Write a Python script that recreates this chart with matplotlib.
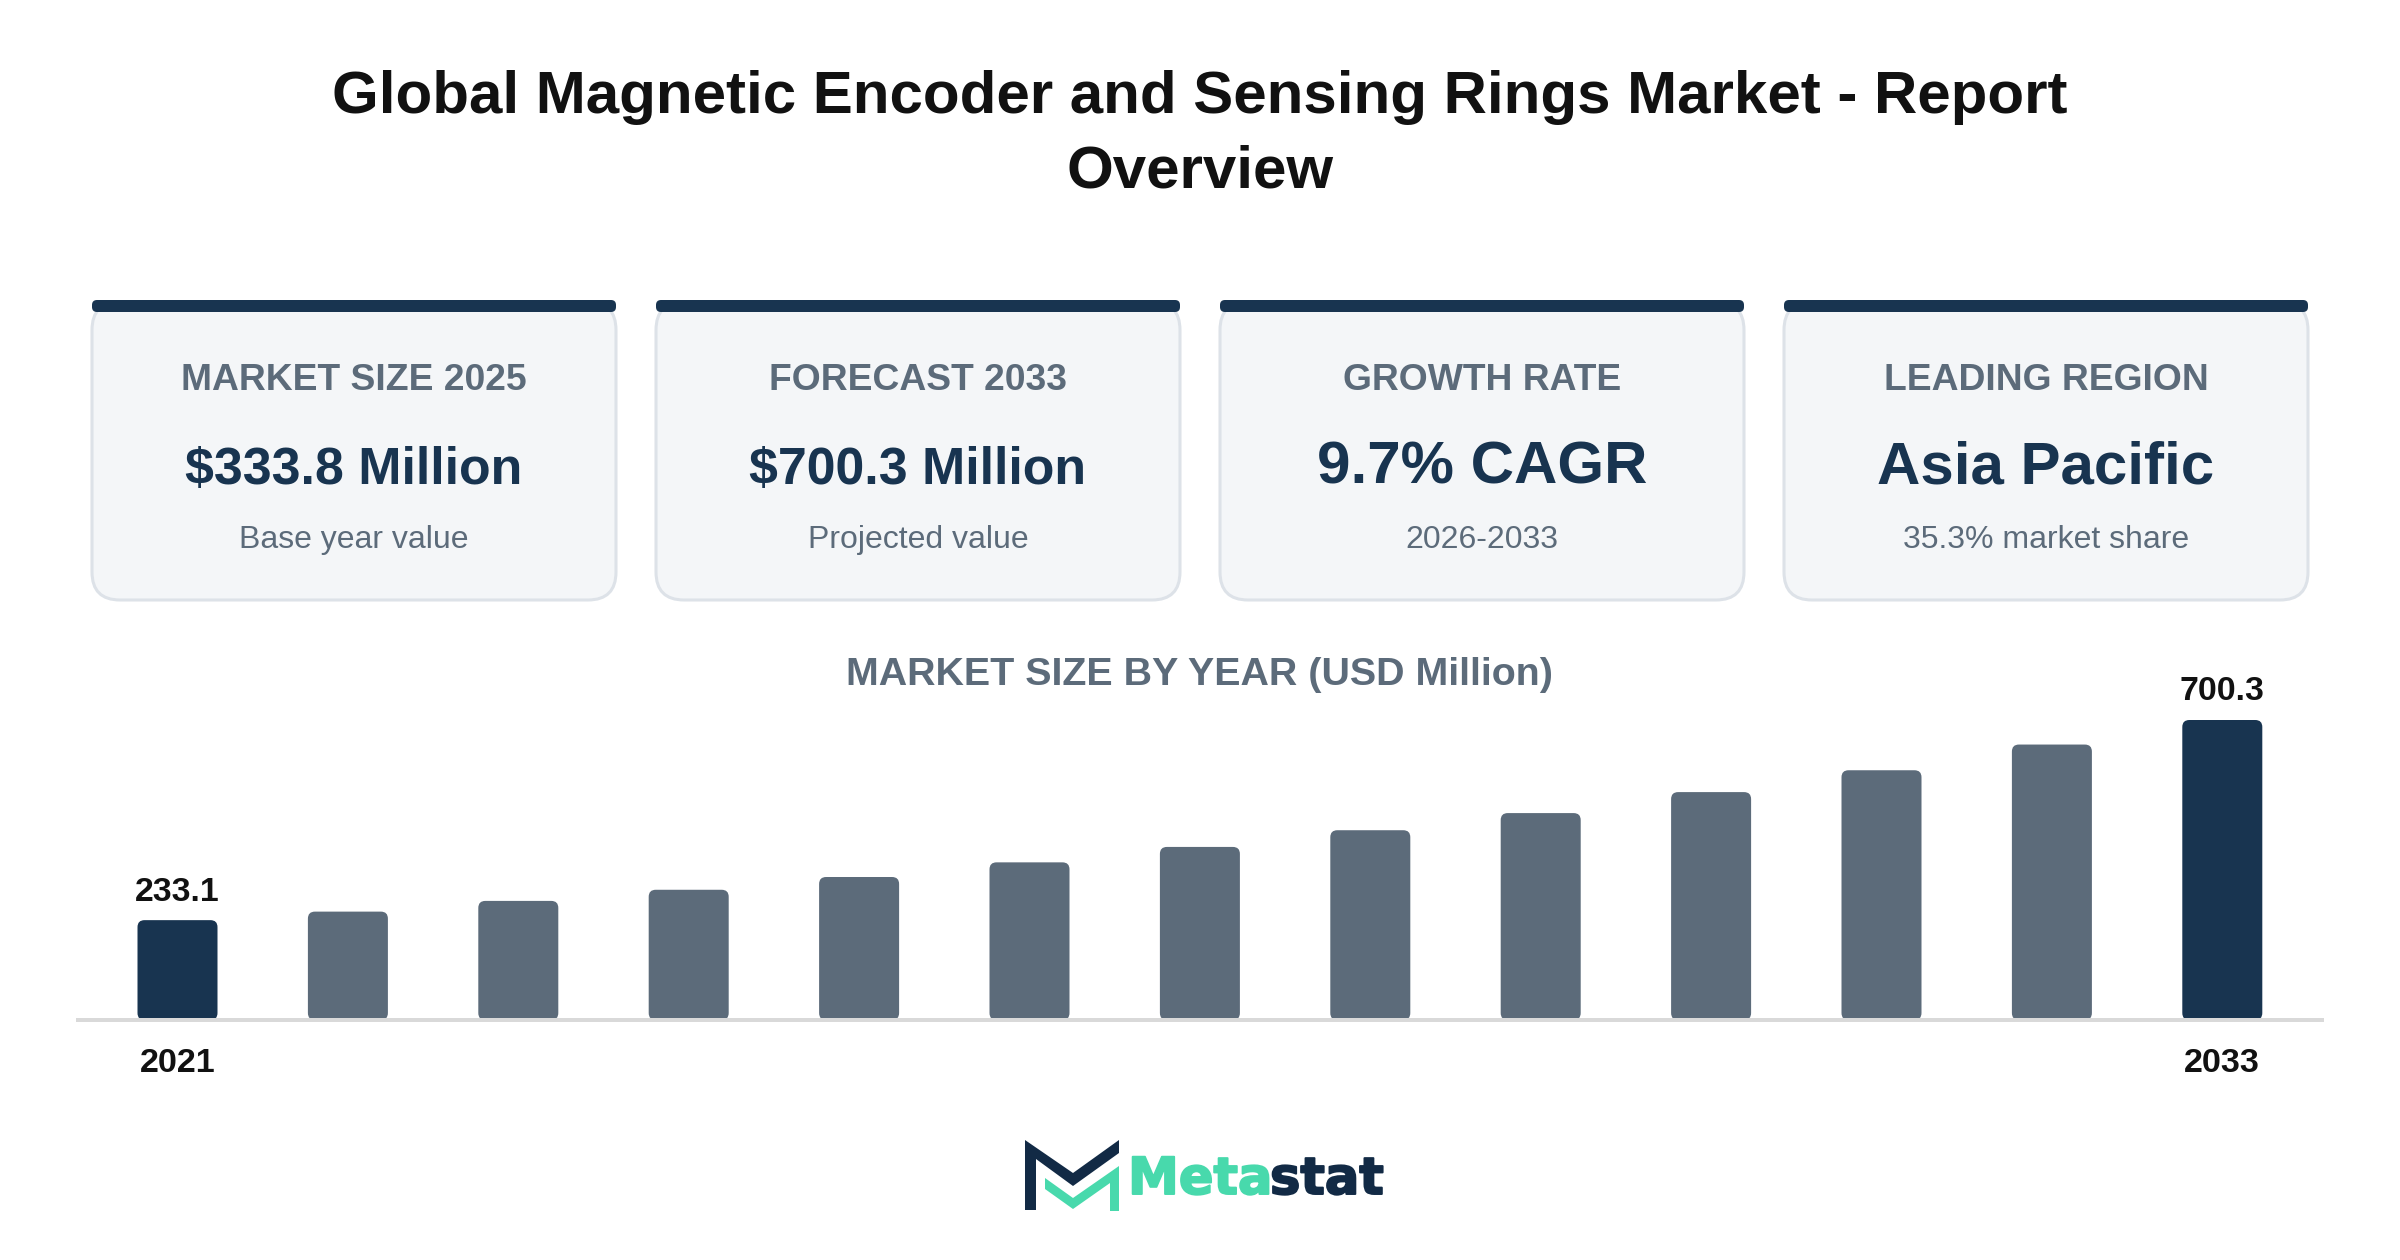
import matplotlib
matplotlib.use("Agg")
import matplotlib.pyplot as plt
import matplotlib.patheffects as pe
from matplotlib.patches import FancyBboxPatch, Polygon

plt.rcParams["font.family"] = ["Liberation Sans", "DejaVu Sans"]

# data
title = "Global Magnetic Encoder and Sensing Rings Market - Report\nOverview"
card_labels = ["MARKET SIZE 2025", "FORECAST 2033", "GROWTH RATE", "LEADING REGION"]
card_values = ["$333.8 Million", "$700.3 Million", "9.7% CAGR", "Asia Pacific"]
card_notes = ["Base year value", "Projected value", "2026-2033", "35.3% market share"]
years = [2021, 2022, 2023, 2024, 2025, 2026, 2027, 2028, 2029, 2030, 2031, 2032, 2033]
market_size = [233.1, 253, 278, 304, 333.8, 368, 404, 443, 483, 532, 583, 643, 700.3]
labelled_years = [2021, 2033]

NAVY = "#183450"
SLATE = "#5c6b7a"
INK = "#111111"
GREEN = "#48d9ac"
LOGO_NAVY = "#122a45"

W, H = 2400, 1260
fig = plt.figure(figsize=(12, 6.3), dpi=200, facecolor="white")

# page layer, measured in pixels
page = fig.add_axes([0, 0, 1, 1])
page.set_xlim(0, W)
page.set_ylim(H, 0)
page.axis("off")

page.text(1200, 135, title, ha="center", va="center", fontsize=21.6, fontweight="bold",
          color=INK, linespacing=1.46)

card_left = [92, 656, 1220, 1784]
card_w = 524
value_sizes = [18.7, 18.7, 21.6, 21.6]
value_y = [470.5, 470.5, 468.5, 468.5]
for i in range(4):
    x = card_left[i]
    page.add_patch(FancyBboxPatch((x, 302), card_w, 298,
                                  boxstyle="round,pad=0,rounding_size=28",
                                  fc="#f4f6f8", ec="#dde2e8", lw=1.1, zorder=1))
    page.add_patch(FancyBboxPatch((x, 300), card_w, 12,
                                  boxstyle="round,pad=0,rounding_size=5",
                                  fc=NAVY, ec="none", zorder=2))
    cx = x + card_w / 2
    page.text(cx, 380, card_labels[i], ha="center", va="center", fontsize=13.4,
              fontweight="bold", color=SLATE, zorder=3)
    page.text(cx, value_y[i], card_values[i], ha="center", va="center", fontsize=value_sizes[i],
              fontweight="bold", color=NAVY, zorder=3)
    page.text(cx, 540, card_notes[i], ha="center", va="center", fontsize=11.5,
              color=SLATE, zorder=3)

page.text(1200, 675, "MARKET SIZE BY YEAR (USD Million)", ha="center", va="center",
          fontsize=14.2, fontweight="bold", color=SLATE)

# bars
ax_left, ax_right, ax_top, ax_base = 76, 2324, 660, 1020
ax = fig.add_axes([ax_left / W, 1 - ax_base / H, (ax_right - ax_left) / W, (ax_base - ax_top) / H])
ax.patch.set_alpha(0)
px_per_year = 170.4
px_per_unit = 300 / 700.3
first_center = 177.5
ax.set_xlim(years[0] + (ax_left - first_center) / px_per_year,
            years[0] + (ax_right - first_center) / px_per_year)
ax.set_ylim(0, (ax_base - ax_top) / px_per_unit)

bar_w = 80 / px_per_year
aspect = (1 / px_per_unit) / (1 / px_per_year)
for yr, v in zip(years, market_size):
    c = NAVY if yr in labelled_years else SLATE
    ax.add_patch(FancyBboxPatch((yr - bar_w / 2, 0), bar_w, v,
                                boxstyle=f"round,pad=0,rounding_size={7 / px_per_year}",
                                mutation_aspect=aspect, fc=c, ec="none", zorder=2))
    if yr in labelled_years:
        ax.annotate(f"{v:.1f}", (yr, v), xytext=(0, 4.5), textcoords="offset points",
                    ha="center", va="bottom", fontsize=12.2, fontweight="bold", color=INK)

for side in ["top", "left", "right"]:
    ax.spines[side].set_visible(False)
ax.spines["bottom"].set_color("#d9d9d9")
ax.spines["bottom"].set_linewidth(1.44)
ax.spines["bottom"].set_capstyle("butt")
ax.spines["bottom"].set_zorder(3)
ax.set_yticks([])
ax.set_xticks(labelled_years)
ax.set_xticklabels([str(y) for y in labelled_years], fontsize=12.3, fontweight="bold", color=INK)
ax.tick_params(axis="x", length=0, pad=10)

# logo
dark_m = [(1025, 1140), (1073, 1173), (1119, 1140), (1119, 1153), (1073, 1186),
          (1036, 1159), (1036, 1210), (1025, 1210)]
green_m = [(1045, 1178), (1073, 1198), (1119, 1166), (1119, 1211), (1110, 1211),
           (1110, 1183), (1073, 1209), (1045, 1189)]
page.add_patch(Polygon(dark_m, closed=True, fc=LOGO_NAVY, ec="none"))
page.add_patch(Polygon(green_m, closed=True, fc=GREEN, ec="none"))
meta = page.text(1128, 1194, "Meta", ha="left", va="baseline", fontsize=18.4, fontweight="bold",
                 family="DejaVu Sans", color=GREEN)
stat = page.text(1270, 1194, "stat", ha="left", va="baseline", fontsize=18.4, fontweight="bold",
                 family="DejaVu Sans", color=LOGO_NAVY)
meta.set_path_effects([pe.withStroke(linewidth=0.7, foreground=GREEN)])
stat.set_path_effects([pe.withStroke(linewidth=0.7, foreground=LOGO_NAVY)])

fig.savefig("out.png", dpi=200, facecolor="white")
plt.close(fig)
